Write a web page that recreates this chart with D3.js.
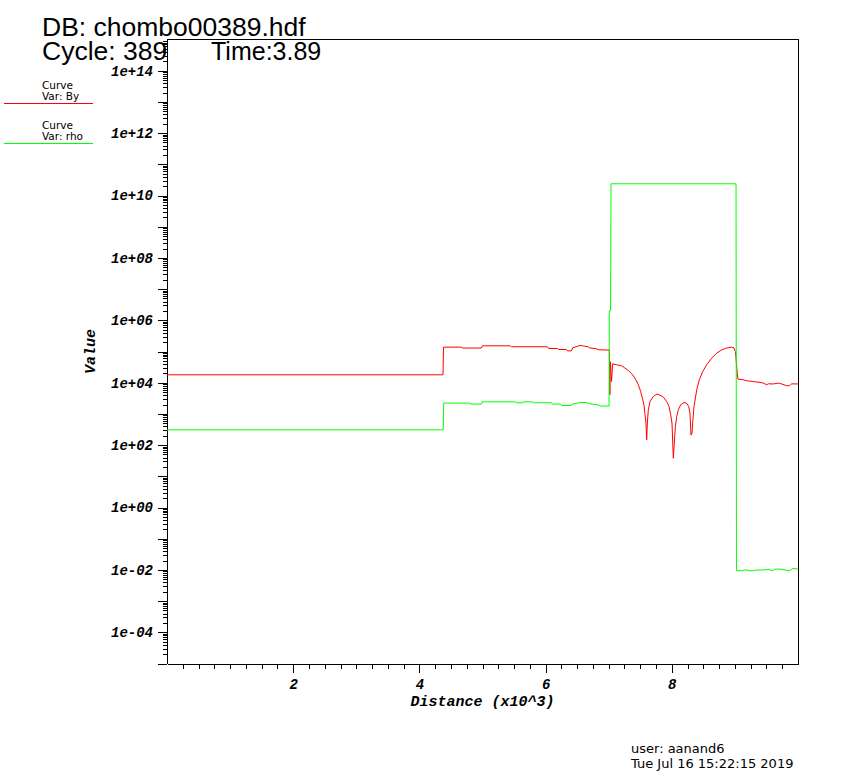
<!DOCTYPE html>
<html lang="en">
<head>
  <meta charset="utf-8">
  <title>chombo00389.hdf</title>
  <script src="https://d3js.org/d3.v7.min.js"></script>
  <style>
    body { margin: 0; background: #fff; }
    svg { display: block; }
    .title { font: 26.5px "Liberation Sans", Arial, sans-serif; fill: #000; }
    .legend { font: 10.5px "DejaVu Sans", sans-serif; fill: #000; }
    .stamp { font: 13px "DejaVu Sans", sans-serif; fill: #000; }
    .axis text { font: bold italic 14px "Liberation Mono", monospace; fill: #000; }
    .axis path, .axis line { stroke: #000; shape-rendering: crispEdges; }
    .label { font: bold italic 15px "Liberation Mono", monospace; fill: #000; }
  </style>
</head>
<body>
  <svg width="842" height="782"></svg>
  <script>
    // curve By (red)
    var byX = [0, 4374, 4382, 4660, 4680, 4980, 5000, 5440, 5460, 6030, 6045, 6190, 6205, 6330, 6345, 6410,
      6430, 6500, 6545, 6600, 6672, 6700, 6783, 6850, 7005, 7010, 7018, 7026, 7045, 7063, 7127, 7206, 7258,
      7311, 7365, 7417, 7469, 7507, 7533, 7559, 7575, 7591, 7602, 7612, 7628, 7655, 7707, 7761, 7813, 7866,
      7919, 7956, 7982, 8003, 8024, 8040, 8056, 8078, 8103, 8141, 8193, 8236, 8268, 8288, 8304, 8320, 8331,
      8352, 8395, 8436, 8490, 8553, 8632, 8712, 8791, 8870, 8949, 8986, 9007, 9013, 9038, 9049, 9133, 9187,
      9292, 9398, 9450, 9504, 9530, 9609, 9688, 9742, 9821, 9862, 9900, 10000];
    var byY = [1.79e4, 1.79e4, 1.38e5, 1.38e5, 1.29e5, 1.29e5, 1.52e5, 1.52e5, 1.42e5, 1.42e5, 1.25e5, 1.25e5,
      1.16e5, 1.16e5, 1.05e5, 1.05e5, 1.32e5, 1.45e5, 1.56e5, 1.50e5, 1.42e5, 1.30e5, 1.25e5, 1.13e5, 1.11e5,
      1.11e5, 4.1e3, 4.67e4, 1.09e4, 4.03e4, 3.75e4, 3.48e4, 2.94e4, 2.46e4, 1.93e4, 1.40e4, 8.6e3, 5.2e3,
      3.2e3, 1.96e3, 9.4e2, 5.1e2, 1.48e2, 5.1e2, 1.35e3, 2.5e3, 3.6e3, 4.3e3, 4.0e3, 3.45e3, 2.5e3, 1.73e3,
      9.4e2, 5.1e2, 38, 1.16e2, 3.9e2, 8.3e2, 1.35e3, 1.96e3, 2.3e3, 2.2e3, 1.73e3, 1.06e3, 2.1e2, 2.4e2,
      5.1e2, 1.73e3, 5.9e3, 1.24e4, 2.29e4, 3.75e4, 6.1e4, 8.9e4, 1.13e5, 1.29e5, 1.38e5, 1.29e5, 1.0e5,
      7.8e4, 1.93e4, 1.30e4, 1.24e4, 1.15e4, 1.09e4, 1.02e4, 9.7e3, 8.6e3, 9.2e3, 9.1e3, 9.7e3, 9.1e3,
      8.0e3, 8.0e3, 9.2e3, 9.1e3];

    // curve rho (green)
    var rhoX = [0, 4378, 4385, 4800, 4810, 4985, 4995, 5525, 5535, 5640, 5645, 5795, 5805, 6095, 6105, 6240,
      6250, 6410, 6420, 6500, 6545, 6640, 6704, 6830, 6878, 7005, 7010, 7029, 7037, 9018, 9025, 9113, 9160,
      9223, 9271, 9336, 9398, 9540, 9588, 9636, 9715, 9794, 9858, 9920, 10000];
    var rhoY = [3.09e2, 3.09e2, 2.22e3, 2.22e3, 2.06e3, 2.06e3, 2.44e3, 2.44e3, 2.27e3, 2.27e3, 2.44e3, 2.44e3,
      2.27e3, 2.27e3, 2.06e3, 2.06e3, 1.86e3, 1.86e3, 2.06e3, 2.2e3, 2.32e3, 2.32e3, 2.1e3, 1.96e3, 1.78e3,
      1.78e3, 2.0e6, 2.0e6, 2.37e10, 2.37e10, 9.6e-3, 9.35e-3, 1.0e-2, 9.6e-3, 9.2e-3, 9.9e-3, 9.9e-3,
      1.03e-2, 9.35e-3, 1.06e-2, 1.06e-2, 1.0e-2, 9.2e-3, 1.11e-2, 1.06e-2];

    // ticks
    var xTickValues = [2000, 4000, 6000, 8000];
    var xTickLabels = ["2", "4", "6", "8"];
    var yTickValues = [1e14, 1e12, 1e10, 1e8, 1e6, 1e4, 1e2, 1e0, 1e-2, 1e-4];
    var yTickLabels = ["1e+14", "1e+12", "1e+10", "1e+08", "1e+06", "1e+04", "1e+02", "1e+00", "1e-02", "1e-04"];

    var svg = d3.select("svg"),
      plotLeft = 167, plotRight = 798, plotTop = 39.5, plotBottom = 663.5;

    var x = d3.scaleLinear().domain([0, 10000]).range([plotLeft, plotRight]);
    var y = d3.scaleLog().domain([1e-5, 1e15]).range([plotBottom, plotTop]);

    // header text (drawn first, the plot area covers part of it)
    svg.append("text").attr("class", "title").attr("x", 42).attr("y", 36).text("DB: chombo00389.hdf");
    svg.append("text").attr("class", "title").attr("x", 42).attr("y", 60).text("Cycle: 389");
    svg.append("rect")
      .attr("x", plotLeft).attr("y", plotTop)
      .attr("width", plotRight - plotLeft).attr("height", plotBottom - plotTop)
      .attr("fill", "#fff");
    svg.append("text").attr("class", "title").attr("x", 211).attr("y", 60)
      .style("font-size", "25px").text("Time:3.89");

    // legend
    var legend = [["Var: By", "#ff0000"], ["Var: rho", "#00ff00"]];
    legend.forEach(function(l, i) {
      var g = svg.append("g").attr("transform", "translate(0," + (i * 40) + ")");
      g.append("text").attr("class", "legend").attr("x", 42).attr("y", 89).text("Curve");
      g.append("text").attr("class", "legend").attr("x", 42).attr("y", 100).text(l[0]);
      g.append("line")
        .attr("x1", 4).attr("x2", 93).attr("y1", 103.5).attr("y2", 103.5)
        .attr("stroke", l[1]).attr("stroke-width", 1);
    });

    // frame (top and right)
    svg.append("path")
      .attr("d", "M" + plotLeft + "," + plotTop + "H" + (plotRight + 0.5) + "V" + plotBottom)
      .attr("fill", "none").attr("stroke", "#000")
      .attr("shape-rendering", "crispEdges");

    // minor ticks
    var yDecades = d3.range(-5, 15).map(function(e) { return Math.pow(10, e); });
    var yMinor = [];
    yDecades.forEach(function(p) { for (var k = 2; k < 10; k++) yMinor.push(k * p); });
    var xMinor = d3.range(250, 10000, 250).filter(function(v) { return v % 2000 !== 0; });

    svg.append("g").attr("class", "axis")
      .attr("transform", "translate(" + plotLeft + ",0)")
      .call(d3.axisLeft(y).tickValues(yMinor).tickSize(4.5).tickSizeOuter(0).tickFormat(""));
    svg.append("g").attr("class", "axis")
      .attr("transform", "translate(" + plotLeft + ",0)")
      .call(d3.axisLeft(y).tickValues(yDecades).tickSize(9).tickSizeOuter(0).tickPadding(5)
        .tickFormat(function(d) {
          var i = yTickValues.findIndex(function(v) { return Math.abs(Math.log10(v) - Math.log10(d)) < 1e-6; });
          return i < 0 ? "" : yTickLabels[i];
        }));

    svg.append("g").attr("class", "axis")
      .attr("transform", "translate(0," + plotBottom + ")")
      .call(d3.axisBottom(x).tickValues(xMinor).tickSize(5).tickSizeOuter(0).tickFormat(""));
    svg.append("g").attr("class", "axis")
      .attr("transform", "translate(0," + plotBottom + ")")
      .call(d3.axisBottom(x).tickValues(xTickValues).tickSize(9).tickSizeOuter(0).tickPadding(7)
        .tickFormat(function(d, i) { return xTickLabels[i]; }));

    // axis titles
    svg.append("text").attr("class", "label")
      .attr("x", (plotLeft + plotRight) / 2).attr("y", 706)
      .attr("text-anchor", "middle")
      .text("Distance (x10^3)");
    svg.append("text").attr("class", "label")
      .attr("transform", "translate(95," + ((plotTop + plotBottom) / 2) + ") rotate(-90)")
      .attr("text-anchor", "middle")
      .text("Value");

    // curves
    var line = d3.line()
      .x(function(d) { return x(d[0]); })
      .y(function(d) { return y(d[1]); });

    svg.append("path")
      .datum(d3.zip(byX, byY))
      .attr("d", line)
      .attr("fill", "none").attr("stroke", "#ff0000").attr("stroke-width", 1);
    svg.append("path")
      .datum(d3.zip(rhoX, rhoY))
      .attr("d", line)
      .attr("fill", "none").attr("stroke", "#00ff00").attr("stroke-width", 1);

    // user / date stamp
    svg.append("text").attr("class", "stamp").attr("x", 631).attr("y", 753).text("user: aanand6");
    svg.append("text").attr("class", "stamp").attr("x", 631).attr("y", 768).text("Tue Jul 16 15:22:15 2019");
  </script>
</body>
</html>
